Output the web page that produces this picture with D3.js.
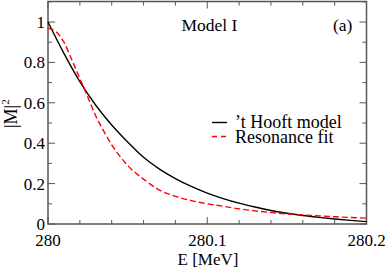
<!DOCTYPE html>
<html><head><meta charset="utf-8">
<script src="https://cdn.jsdelivr.net/npm/d3@7"></script>
<style>body{margin:0;background:#fff}svg{display:block}text{font-family:"Liberation Serif","Times New Roman",serif;fill:#000}</style>
</head><body><svg id="c" width="388" height="271"></svg>
<script>
// Data (E offsets in MeV from 280)
const hooftE = [0,0.01,0.02,0.03,0.04,0.05,0.06,0.07,0.08,0.09,0.10,0.11,0.12,0.13,0.14,0.15,0.16,0.17,0.18,0.19,0.20];
const hooftV = [1.0,0.845,0.705,0.588,0.49,0.406,0.33,0.272,0.225,0.186,0.153,0.126,0.103,0.084,0.067,0.053,0.042,0.033,0.025,0.018,0.012];
const resE = [0,0.005,0.01,0.015,0.02,0.025,0.03,0.035,0.04,0.045,0.05,0.06,0.07,0.08,0.09,0.10,0.11,0.12,0.13,0.14,0.15,0.16,0.18,0.20];
const resV = [0.970,0.952,0.90,0.812,0.72,0.628,0.535,0.46,0.392,0.337,0.29,0.222,0.168,0.137,0.116,0.10,0.088,0.075,0.065,0.057,0.050,0.045,0.036,0.029];
const xTicks = [280, 280.1, 280.2];
const xTickLabels = ["280", "280.1", "280.2"];
const yTicks = [0, 0.2, 0.4, 0.6, 0.8, 1];
const yTickLabels = ["0", "0.2", "0.4", "0.6", "0.8", "1"];
const legendLabels = ["\u2019t Hooft model", "Resonance fit"];

const svg = d3.select("#c");
const L = 48, R = 366.5, T = 1.5, B = 224;
const x = d3.scaleLinear().domain([280, 280.2]).range([L, R]);
const y = d3.scaleLinear().domain([0, 1.1]).range([B, B - 1.1 * 202]);
const axCol = "#555";

// minor/major ticks
const xMinor = d3.range(0, 11).map(i => 280 + i * 0.02);
const yMinor = d3.range(0, 12).map(i => i * 0.1);
const g = svg.append("g");
xMinor.forEach((v, i) => {
  const len = (i % 5 === 0) ? 7 : 4;
  g.append("line").attr("x1", x(v)).attr("x2", x(v)).attr("y1", B).attr("y2", B - len).attr("stroke", axCol).attr("stroke-width", 1);
  g.append("line").attr("x1", x(v)).attr("x2", x(v)).attr("y1", T).attr("y2", T + len).attr("stroke", axCol).attr("stroke-width", 1);
});
yMinor.forEach((v, i) => {
  const len = (i % 2 === 0) ? 7 : 4;
  g.append("line").attr("y1", y(v)).attr("y2", y(v)).attr("x1", L).attr("x2", L + len).attr("stroke", axCol).attr("stroke-width", 1);
  g.append("line").attr("y1", y(v)).attr("y2", y(v)).attr("x1", R).attr("x2", R - len).attr("stroke", axCol).attr("stroke-width", 1);
});
g.append("rect").attr("x", L).attr("y", T).attr("width", R - L).attr("height", B - T)
  .attr("fill", "none").attr("stroke", axCol).attr("stroke-width", 1.5);

// tick labels
xTicks.forEach((v, i) => {
  svg.append("text").attr("x", x(v)).attr("y", 245.5).attr("text-anchor", "middle").attr("font-size", 17).text(xTickLabels[i]);
});
yTicks.forEach((v, i) => {
  svg.append("text").attr("x", L - 3).attr("y", y(v) + 6).attr("text-anchor", "end").attr("font-size", 17).text(yTickLabels[i]);
});

// axis titles
svg.append("text").attr("x", 208).attr("y", 265).attr("text-anchor", "middle").attr("font-size", 17).text("E [MeV]");
const yl = svg.append("text").attr("transform", "translate(17,128) rotate(-90)").attr("font-size", 18);
yl.append("tspan").text("|M|");
yl.append("tspan").attr("dy", -8).attr("font-size", 11).text("2");

// annotations
svg.append("text").attr("x", 181.5).attr("y", 30.5).attr("font-size", 17.5).text("Model I");
svg.append("text").attr("x", 333).attr("y", 30.5).attr("font-size", 17.5).text("(a)");

// curves
const line = d3.line().x(d => x(280 + d[0])).y(d => y(d[1])).curve(d3.curveMonotoneX);
svg.append("path").datum(hooftE.map((e, i) => [e, hooftV[i]])).attr("d", line)
  .attr("fill", "none").attr("stroke", "#000").attr("stroke-width", 1.4);
svg.append("path").datum(resE.map((e, i) => [e, resV[i]])).attr("d", line)
  .attr("fill", "none").attr("stroke", "#ff0000").attr("stroke-width", 1.4).attr("stroke-dasharray", "6,3");

// legend
svg.append("line").attr("x1", 212).attr("x2", 227).attr("y1", 122.5).attr("y2", 122.5).attr("stroke", "#000").attr("stroke-width", 1.4);
svg.append("line").attr("x1", 212).attr("x2", 228).attr("y1", 136.5).attr("y2", 136.5).attr("stroke", "#ff0000").attr("stroke-width", 1.4).attr("stroke-dasharray", "5,4");
svg.append("text").attr("x", 235).attr("y", 127.5).attr("font-size", 18).text(legendLabels[0]);
svg.append("text").attr("x", 235).attr("y", 142.5).attr("font-size", 18).text(legendLabels[1]);
</script></body></html>
